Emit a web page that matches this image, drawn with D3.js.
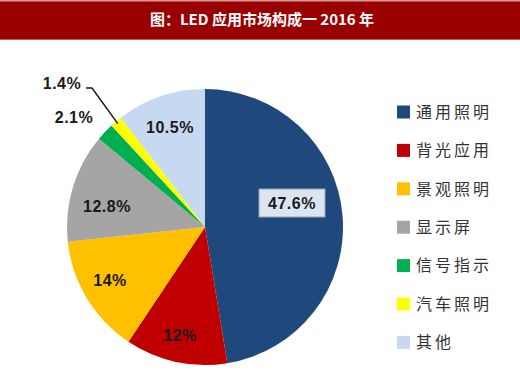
<!DOCTYPE html>
<html><head><meta charset="utf-8">
<script src="https://cdn.jsdelivr.net/npm/d3@7"></script>
<style>html,body{margin:0;padding:0;background:#fff;}</style>
</head><body>
<svg id="c" width="520" height="379"></svg>
<script>
const title = "图：LED 应用市场构成一 2016 年";
const categories = ["通用照明","背光应用","景观照明","显示屏","信号指示","汽车照明","其他"];
const values = [47.6, 12, 14, 12.8, 2.1, 1.4, 10.5];
const labels = ["47.6%","12%","14%","12.8%","2.1%","1.4%","10.5%"];
const colors = ["#1f497d","#c00000","#ffc000","#a5a5a5","#00b050","#ffff00","#c6d9f1"];

const svg = d3.select("#c");
svg.append("rect").attr("x",0).attr("y",0).attr("width",520).attr("height",40).attr("fill","#990000");
svg.append("rect").attr("x",0).attr("y",0).attr("width",520).attr("height",1.5).attr("fill","#d99a9a");
svg.append("rect").attr("x",0).attr("y",39).attr("width",520).attr("height",1).attr("fill","#c06060");
svg.append("text").attr("x",262).attr("y",25).attr("text-anchor","middle")
  .attr("fill","#fff").attr("font-family","'Noto Sans CJK SC'").attr("font-weight","bold")
  .attr("font-size",15).text(title);

const cx = 205, cy = 227, r = 138;
const data = categories.map((c,i)=>({c, v:values[i], label:labels[i], color:colors[i]}));
const pie = d3.pie().value(d=>d.v).sort(null);
const arcs = pie(data);
const arc = d3.arc().innerRadius(0).outerRadius(r);
const g = svg.append("g").attr("transform",`translate(${cx},${cy})`);
g.selectAll("path").data(arcs).enter().append("path")
  .attr("d",arc).attr("fill",d=>d.data.color);

// label anchor positions relative to pie centre (layout, not data)
const labelPos = [[87,-24],[-25,108],[-95,53],[-98,-21],[-131,-110],[-143,-144],[-35,-100]];
const fontLab = "'Liberation Sans', Arial, sans-serif";
arcs.forEach((a,i)=>{
  const [x,y] = labelPos[i];
  if(i===0){
    g.append("rect").attr("x",x-33).attr("y",y-14).attr("width",66).attr("height",28)
      .attr("fill","#dbe5f1").attr("stroke","#9aa4b0").attr("stroke-width",1);
  }
  g.append("text").attr("x",x).attr("y",y).attr("dy","0.36em")
    .attr("text-anchor","middle").attr("font-family",fontLab).attr("font-weight","bold")
    .attr("font-size",16).attr("fill","#1a1a1a").attr("letter-spacing",0.5).text(a.data.label);
  if(i===5){
    const mid = (a.startAngle+a.endAngle)/2;
    const ex = Math.sin(mid)*r*0.98, ey = -Math.cos(mid)*r*0.98;
    g.append("polyline").attr("points",`${x+24},${y+5} ${x+30},${y+5} ${ex},${ey}`)
      .attr("fill","none").attr("stroke","#1a1a1a").attr("stroke-width",1.5);
  }
});

// legend
const lg = svg.append("g");
const ly0 = 112, lstep = 38.4;
data.forEach((d,i)=>{
  const y = ly0 + i*lstep;
  lg.append("rect").attr("x",397).attr("y",y-6.5).attr("width",13).attr("height",13).attr("fill",d.color);
  lg.append("text").attr("x",416).attr("y",y).attr("dy","0.36em")
    .attr("font-family","'Noto Sans CJK SC'").attr("font-size",16).attr("letter-spacing",3)
    .attr("fill","#333").text(d.c);
});
</script>
</body></html>
